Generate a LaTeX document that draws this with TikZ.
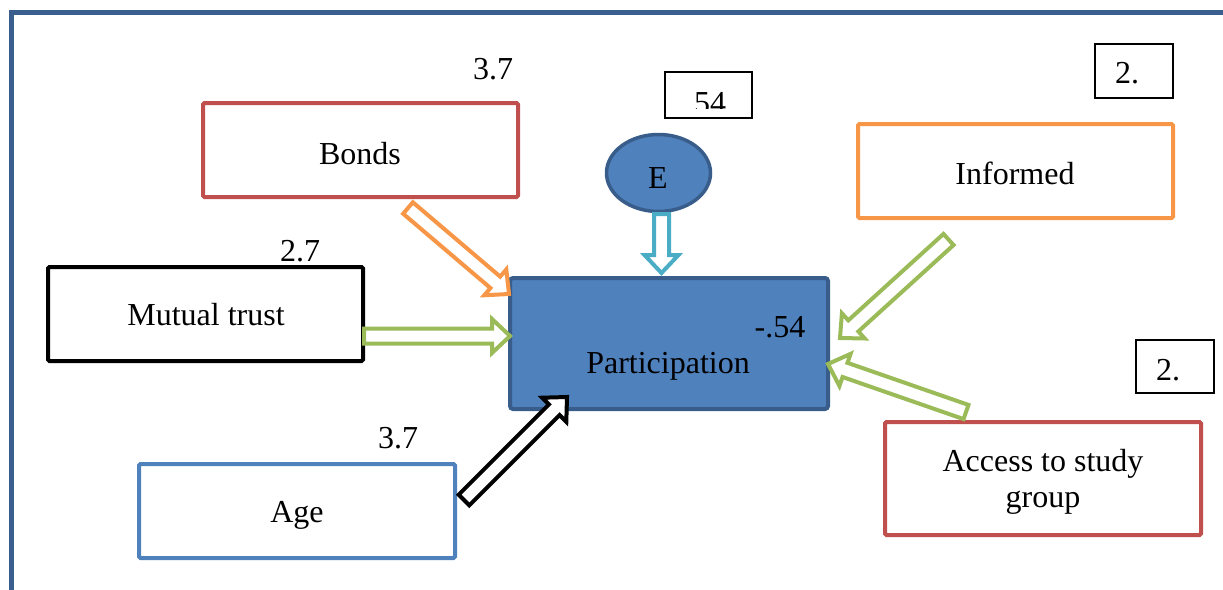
\documentclass[tikz,border=0pt]{standalone}
\usepackage{fontspec}
\setmainfont{Liberation Serif}
\usetikzlibrary{calc,shapes.geometric}
\definecolor{cBlue}{HTML}{4F81BD}
\definecolor{cDark}{HTML}{385D8A}
\definecolor{cRed}{HTML}{C0504D}
\definecolor{cOrange}{HTML}{F79646}
\definecolor{cGreen}{HTML}{9BBB59}
\definecolor{cTeal}{HTML}{4BACC6}
\definecolor{cFrame}{HTML}{3A5F8F}
\newcommand{\blockarr}[3]{%
  \coordinate (bac) at ($(#3)!18pt!(#2)$);
  \draw[barrow,#1] ($(#2)!7.5pt!90:(#3)$) -- ($(bac)!7.5pt!90:(#3)$) -- ($(bac)!17pt!90:(#3)$) -- (#3) -- ($(bac)!17pt!-90:(#3)$) -- ($(bac)!7.5pt!-90:(#3)$) -- ($(#2)!7.5pt!-90:(#3)$) -- cycle;}
\tikzset{
  txt/.style={font=\fontsize{32}{36}\selectfont, inner sep=0pt, anchor=base, align=center},
  box/.style={draw, line width=4pt, rounded corners=1.5pt, inner sep=0pt, fill=white},
  nbox/.style={draw=black, line width=1.5pt, inner sep=0pt, fill=white},
  barrow/.style={line width=4pt, line join=miter, fill=white}
}
\begin{document}
\begin{tikzpicture}[x=1pt,y=-1pt]
\useasboundingbox (0,0) rectangle (1223,589);
% frame
\draw[cFrame, line width=5pt, line join=miter] (11,600) -- (11,12.5) -- (1235,12.5);
% boxes
\node[box, draw=cRed, minimum width=315pt, minimum height=94pt] (bonds) at (360.5,150) {};
\node[box, draw=cOrange, minimum width=315pt, minimum height=94pt] (informed) at (1015.5,171) {};
\node[box, draw=black, minimum width=315pt, minimum height=94pt] (trust) at (205.5,314) {};
\node[box, draw=cBlue, minimum width=316pt, minimum height=94pt] (age) at (297,511) {};
\node[box, draw=cRed, minimum width=316pt, minimum height=113pt] (access) at (1043,478.5) {};
\node[box, draw=cDark, fill=cBlue, rounded corners=3pt, minimum width=318pt, minimum height=131pt] (part) at (669,343.5) {};
% box texts
\node[txt] (bondsL) at (360,164) {Bonds};
\node[txt] (informedL) at (1015,184) {Informed};
\node[txt] (trustL) at (206,325) {Mutual trust};
\node[txt] (ageL) at (297,522) {Age};
\node[txt] (accessL1) at (1043,471) {Access to study};
\node[txt] (accessL2) at (1043,507) {group};
\node[txt] (ptext) at (668,373) {Participation};
\node[txt] (pval) at (780,337) {-.54};
% E ellipse
\node[draw=cDark, fill=cBlue, line width=3.5pt, ellipse, minimum width=104pt, minimum height=77pt, inner sep=0pt] (E) at (658.5,173) {};
\node[txt] (EL) at (658,188) {E};
% number boxes
\node[nbox, minimum width=87pt, minimum height=46pt] (b54) at (708.5,95) {};
\begin{scope}
\clip (665,72) rectangle (752,108);
\node[txt] (t54) at (710,113) {54};
\end{scope}
\node[nbox, minimum width=78pt, minimum height=54pt] (b2a) at (1134,71) {};
\node[txt] (t2a) at (1127,83) {2.};
\node[nbox, minimum width=78pt, minimum height=53pt] (b2b) at (1175,366.5) {};
\node[txt] (t2b) at (1168,380) {2.};
% free numbers
\node[txt] (n37a) at (493,79) {3.7};
\node[txt] (n27) at (300,261) {2.7};
\node[txt] (n37b) at (398,448) {3.7};
% arrow end points
\coordinate (bondsT) at (408,208);
\coordinate (bondsH) at (509,294);
\coordinate (trustT) at (364,336);
\coordinate (trustH) at (510,336);
\coordinate (ageT) at (464,500);
\coordinate (ageH) at (567,397);
\coordinate (infT) at (948.5,239.5);
\coordinate (infH) at (840,338);
\coordinate (accT) at (966,412);
\coordinate (accH) at (828,364);
\coordinate (eT) at (661.5,214);
\coordinate (eH) at (661.5,273);
% arrows
\blockarr{draw=cOrange}{bondsT}{bondsH}
\blockarr{draw=cGreen}{trustT}{trustH}
\blockarr{draw=black}{ageT}{ageH}
\blockarr{draw=cGreen}{infT}{infH}
\blockarr{draw=cGreen}{accT}{accH}
\blockarr{draw=cTeal}{eT}{eH}
\end{tikzpicture}
\end{document}
